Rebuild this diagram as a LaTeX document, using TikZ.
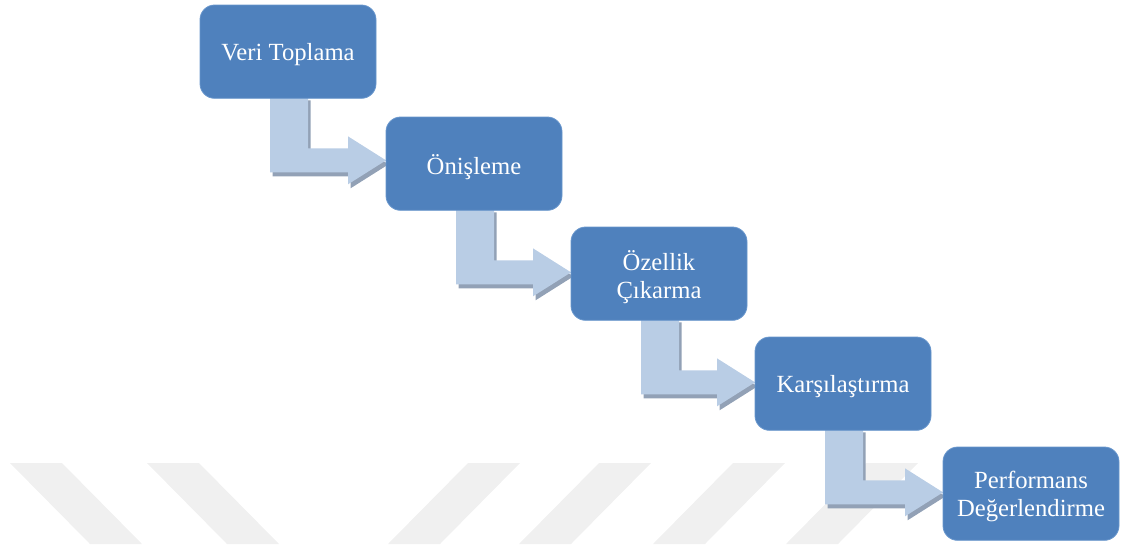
\documentclass[tikz,border=0pt]{standalone}
\usepackage{fontspec}
\setmainfont{Liberation Serif}
\usetikzlibrary{calc}

\definecolor{boxfill}{RGB}{79,129,189}
\definecolor{boxline}{RGB}{104,150,204}
\definecolor{arrowfill}{RGB}{185,205,229}
\definecolor{arrowshade}{RGB}{146,161,182}
\definecolor{markband}{RGB}{240,240,240}

\pgfdeclarelayer{mark}
\pgfdeclarelayer{flow}
\pgfsetlayers{mark,flow,main}

\tikzset{
  stage/.style={rectangle, rounded corners=11pt, fill=boxfill, draw=boxline,
    line width=0.6pt, anchor=north west,
    minimum width=132pt, minimum height=70pt, inner sep=0pt, outer sep=0pt},
  stagetext/.style={text=white, align=center, inner sep=0pt, yshift=-2.25pt,
    font=\fontsize{18.5}{21}\selectfont},
  flowbody/.style={fill=arrowfill},
  flowshade/.style={fill=arrowshade},
  band/.style={fill=markband}
}

% bent block arrow from the bottom of one stage to the left side of the next
\newcommand\flowshape[5]{%
  \fill[#1] ($(#2.south west)+(70+#4,-2+#5)$) -- ($(#2.south west)+(108+#4,-2+#5)$)
    -- ($(#2.south west)+(108+#4,50+#5)$)
    -- ($(#3.west |- #2.south)+(-38+#4,50+#5)$)
    -- ($(#3.west |- #2.south)+(-38+#4,38+#5)$)
    -- ($(#3.west |- #2.south)+(#4,62+#5)$)
    -- ($(#3.west |- #2.south)+(-38+#4,86+#5)$)
    -- ($(#3.west |- #2.south)+(-38+#4,74+#5)$)
    -- ($(#2.south west)+(70+#4,74+#5)$) -- cycle;}
\newcommand\flowarrow[2]{%
  \flowshape{flowshade}{#1}{#2}{2.5}{4}%
  \flowshape{flowbody}{#1}{#2}{0}{0}}

\begin{document}
\begin{tikzpicture}[x=0.75pt,y=-0.75pt]
  \useasboundingbox (0,0) rectangle (1125,544);

  % faint diagonal bands along the bottom
  \begin{pgfonlayer}{mark}
    \fill[band] (10,463) -- (62,463) -- (142,544) -- (90,544) -- cycle;
    \fill[band] (147,463) -- (199,463) -- (279,544) -- (227,544) -- cycle;
    \fill[band] (468,463) -- (520,463) -- (440,544) -- (388,544) -- cycle;
    \fill[band] (599,463) -- (651,463) -- (571,544) -- (519,544) -- cycle;
    \fill[band] (733,463) -- (785,463) -- (705,544) -- (653,544) -- cycle;
    \fill[band] (866,463) -- (918,463) -- (838,544) -- (786,544) -- cycle;
  \end{pgfonlayer}

  % process stages
  \node[stage] (s1) at (200,5)   {};
  \node[stage] (s2) at (386,117) {};
  \node[stage] (s3) at (571,227) {};
  \node[stage] (s4) at (755,337) {};
  \node[stage] (s5) at (943,447) {};

  % stage captions
  \node[stagetext] (t1) at (s1.center) {Veri Toplama};
  \node[stagetext] (t2) at (s2.center) {Önişleme};
  \node[stagetext] (t3) at (s3.center) {Özellik\\Çıkarma};
  \node[stagetext] (t4) at (s4.center) {Karşılaştırma};
  \node[stagetext] (t5) at (s5.center) {Performans\\Değerlendirme};

  % arrows between stages
  \begin{pgfonlayer}{flow}
    \flowarrow{s1}{s2}
    \flowarrow{s2}{s3}
    \flowarrow{s3}{s4}
    \flowarrow{s4}{s5}
  \end{pgfonlayer}
\end{tikzpicture}
\end{document}
